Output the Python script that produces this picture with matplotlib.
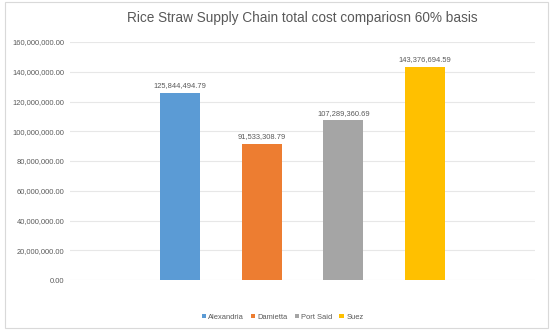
import matplotlib.pyplot as plt
from matplotlib.patches import Rectangle
from matplotlib.ticker import FuncFormatter

plt.rcParams['font.family'] = ['Liberation Sans', 'DejaVu Sans']

ports = ['Alexandria', 'Damietta', 'Port Said', 'Suez']
costs = [125844494.79, 91533308.79, 107289360.69, 143376694.59]
colors = ['#5B9BD5', '#ED7D31', '#A5A5A5', '#FFC000']
yticks = [0, 20e6, 40e6, 60e6, 80e6, 100e6, 120e6, 140e6, 160e6]

fig = plt.figure(figsize=(5.54, 3.31), dpi=100)
ax = fig.add_axes([0.126, 0.154, 0.84, 0.719])

# outer chart border like the Excel chart area
fig.patches.append(Rectangle((0.009, 0.009), 0.98, 0.985, transform=fig.transFigure,
                             fill=False, edgecolor='#D9D9D9', linewidth=0.8))

bars = []
for i, (p, v, c) in enumerate(zip(ports, costs, colors)):
    b = ax.bar(i, v, width=0.49, color=c, label=p, zorder=3)
    bars.append(b)
    ax.text(i, v + 2.5e6, f'{v:,.2f}', ha='center', va='bottom',
            fontsize=5.4, color='#595959')

ax.set_xlim(-1.35, 4.35)
ax.set_ylim(0, 160e6)
ax.set_yticks(yticks)
ax.yaxis.set_major_formatter(FuncFormatter(lambda y, _: f'{y:,.2f}'))
ax.tick_params(axis='y', length=0, labelsize=5.4, labelcolor='#595959', pad=4)
ax.set_xticks([])
ax.grid(axis='y', color='#E7E7E7', linewidth=0.8, zorder=0)
for s in ax.spines.values():
    s.set_visible(False)

fig.text(0.545, 0.946, 'Rice Straw Supply Chain total cost compariosn 60% basis',
         ha='center', va='center', fontsize=9.8, color='#595959')

fig.legend(handles=[b[0] for b in bars], labels=ports, loc='center',
           bbox_to_anchor=(0.51, 0.042), ncol=4, frameon=False, fontsize=5.4,
           handlelength=0.6, handleheight=0.6, handletextpad=0.3, columnspacing=0.9,
           labelcolor='#595959')

fig.savefig('out.png', dpi=100)
